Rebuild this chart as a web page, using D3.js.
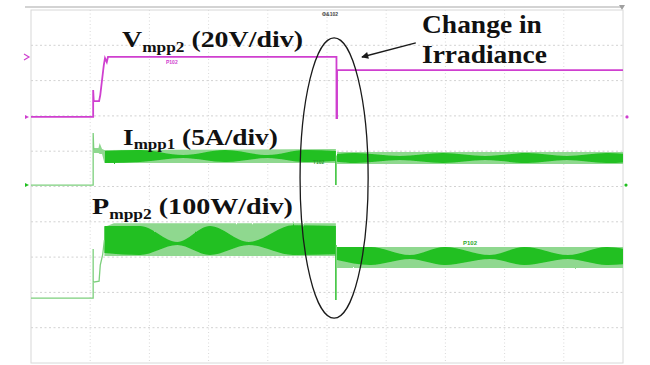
<!DOCTYPE html>
<html>
<head>
<meta charset="utf-8">
<script src="https://cdn.jsdelivr.net/npm/d3@7"></script>
<style>
  html, body { margin: 0; padding: 0; background: #fff; }
  svg { display: block; }
</style>
</head>
<body>
<svg id="scope" width="650" height="365"></svg>
<script>
// ---- Screen: 10 horizontal x 10 vertical divisions ----
const gridDivs = d3.range(0, 11);

// ---- Channel settings (ground level in divisions from bottom, units per division) ----
const vOffsetDiv = 6.97, vPerDiv = 20;    // Vmpp2, 20 V/div
const iOffsetDiv = 5.04, iPerDiv = 5;     // Impp1, 5 A/div
const pOffsetDiv = 1.84, pPerDiv = 100;   // Pmpp2, 100 W/div

// ---- Vmpp2 trace (time in divisions, volts) ----
const vTime  = [0, 1.05, 1.05, 1.06, 1.15, 1.17, 1.22, 1.23, 1.25, 1.28, 1.30, 5.15, 5.16, 5.16, 5.17, 5.17, 10];
const vVolts = [0, 0, 15.3, 9.0, 9.0, 12.4, 26.6, 29.4, 33.4, 31.1, 34.0, 34.0, 34.0, -0.6, -0.6, 26.5, 26.5];

// ---- Impp1 trace (amps) ----
const iTime = [0, 1.05, 1.05, 1.06];
const iAmps = [0, 0, 7.37, 5.0];
const iStepTime = [5.15, 5.15];
const iStepAmps = [4.2, 0];
// switching-ripple envelope (outer, light) and beat envelope (inner, dark)
const iBandTime = [1.06, 1.14, 1.16, 1.20, 1.24, 5.15, null, 5.17, 10];
const iBandHigh = [5.24, 5.24, 5.95, 5.10, 4.96, 5.10, null, 4.68, 4.68];
const iBandLow  = [4.54, 4.54, 4.39, 4.39, 3.12, 3.12, null, 2.98, 2.98];
const iRippleTime = [1.25, 1.84, 2.57, 3.28, 4.00, 4.63, 5.15, null, 5.17, 5.47, 6.23, 6.96, 7.67, 8.38, 9.05, 9.73, 10];
const iRippleHigh = [4.82, 4.96, 4.25, 4.96, 4.25, 4.96, 4.82, null, 4.40, 4.54, 4.11, 4.54, 4.11, 4.54, 4.11, 4.54, 4.45];
const iRippleLow  = [3.12, 3.26, 3.83, 3.26, 3.83, 3.26, 3.40, null, 3.30, 3.12, 3.55, 3.12, 3.55, 3.12, 3.55, 3.12, 3.20];

// ---- Pmpp2 trace (watts) ----
const pTime  = [0, 1.05, 1.05, 1.05, 1.15, 1.17, 1.21, 1.24];
const pWatts = [0, 0, 139, 45, 48, 93, 122, 164];
const pStepTime  = [5.15, 5.15];
const pStepWatts = [150, -5.6];
const pBandTime = [1.24, 1.40, 5.15, null, 5.17, 10];
const pBandHigh = [201, 212, 212, null, 144.5, 144.5];
const pBandLow  = [119, 119, 119, null, 85, 85];
const pRippleTime = [1.24, 1.84, 2.47, 3.02, 3.68, 4.43, 5.15, null, 5.17, 5.73, 6.40, 6.99, 7.75, 8.34, 9.07, 9.73, 10];
const pRippleHigh = [204, 204, 158.7, 204, 158.7, 206, 204, null, 144.5, 144.5, 121.8, 144.5, 121.8, 144.5, 121.8, 144.5, 140];
const pRippleLow  = [127.5, 121.8, 150, 121.8, 150, 121.8, 124, null, 107.7, 93.5, 110.5, 93.5, 110.5, 93.5, 110.5, 93.5, 96];

// ---- Colours ----
const MAGENTA = "#cf3fcf";
const GREEN_DARK = "#20c020";
const GREEN_LIGHT = "#8fd88f";
const GREEN_LINE = "#7ccf7c";

const svg = d3.select("#scope");
const defs = svg.append("defs");

// fine vertical jitter along the band edges (switching noise)
const jitter = defs.append("filter").attr("id", "jitter")
  .attr("x", "-2%").attr("y", "-30%").attr("width", "104%").attr("height", "160%");
jitter.append("feTurbulence").attr("type", "fractalNoise")
  .attr("baseFrequency", "0.9 0.02").attr("numOctaves", 1).attr("seed", 3).attr("result", "n");
jitter.append("feDisplacementMap").attr("in", "SourceGraphic").attr("in2", "n")
  .attr("scale", 1.8).attr("xChannelSelector", "R").attr("yChannelSelector", "G");

const x = d3.scaleLinear().domain([0, 10]).range([31, 623]);
const yDiv = d3.scaleLinear().domain([0, 10]).range([363, 10]);
const yV = v => yDiv(vOffsetDiv + v / vPerDiv);
const yI = a => yDiv(iOffsetDiv + a / iPerDiv);
const yP = w => yDiv(pOffsetDiv + w / pPerDiv);

// ---- Frame and graticule ----
svg.append("line")
  .attr("x1", 25).attr("x2", 623).attr("y1", 7).attr("y2", 7)
  .attr("stroke", "#c4c4c4").attr("stroke-width", 1.3);
svg.append("path")
  .attr("d", "M619,5 L625,5 L622,10 Z")
  .attr("fill", "#a0a0a0");

const grid = svg.append("g");
grid.selectAll("line.v")
  .data(gridDivs.slice(1, 10))
  .join("line")
  .attr("x1", d => x(d)).attr("x2", d => x(d))
  .attr("y1", yDiv(10)).attr("y2", yDiv(0))
  .attr("stroke", "#d9d9d9").attr("stroke-width", 1)
  .attr("stroke-dasharray", "1,2.5");
grid.selectAll("line.h")
  .data(gridDivs.slice(1, 10))
  .join("line")
  .attr("x1", x(0)).attr("x2", x(10))
  .attr("y1", d => yDiv(d)).attr("y2", d => yDiv(d))
  .attr("stroke", "#d2d2d2").attr("stroke-width", 1)
  .attr("stroke-dasharray", "2,2.5");
grid.append("rect")
  .attr("x", x(0)).attr("y", yDiv(10))
  .attr("width", x(10) - x(0)).attr("height", yDiv(0) - yDiv(10))
  .attr("fill", "none").attr("stroke", "#d8d8d8").attr("stroke-width", 1);

// ---- Channel markers ----
svg.append("path").attr("d", `M24,${yV(34) - 3} L29,${yV(34)} L24,${yV(34) + 3}`)
  .attr("fill", "none").attr("stroke", MAGENTA).attr("stroke-width", 1.2);
svg.append("path").attr("d", `M25,${yV(0) - 2} L29,${yV(0)} L25,${yV(0) + 2} Z`)
  .attr("fill", MAGENTA);
svg.append("path").attr("d", `M25,${yI(0) - 2} L29,${yI(0)} L25,${yI(0) + 2} Z`)
  .attr("fill", GREEN_DARK);
svg.append("circle").attr("cx", 627).attr("cy", yV(0)).attr("r", 1.6).attr("fill", MAGENTA);
svg.append("circle").attr("cx", 626).attr("cy", yI(0)).attr("r", 1.6).attr("fill", GREEN_DARK);

// ---- Helpers ----
const zipBand = (t, hi, lo) => t.map((d, k) => ({ t: d, hi: hi[k], lo: lo[k] }));
const zipLine = (t, v) => t.map((d, k) => ({ t: d, v: v[k] }));

function band(rows, yFn, fill, curve) {
  const area = d3.area()
    .defined(d => d.t !== null)
    .x(d => x(d.t))
    .y0(d => yFn(d.lo))
    .y1(d => yFn(d.hi))
    .curve(curve);
  svg.append("path").datum(rows).attr("d", area).attr("fill", fill)
    .attr("filter", "url(#jitter)");
}
function trace(rows, yFn, color, width) {
  const line = d3.line().x(d => x(d.t)).y(d => yFn(d.v));
  svg.append("path").datum(rows).attr("d", line)
    .attr("fill", "none").attr("stroke", color).attr("stroke-width", width)
    .attr("stroke-linejoin", "miter");
}

// ---- Pmpp2 ----
band(zipBand(pBandTime, pBandHigh, pBandLow), yP, GREEN_LIGHT, d3.curveLinear);
band(zipBand(pRippleTime, pRippleHigh, pRippleLow), yP, GREEN_DARK, d3.curveMonotoneX);
trace(zipLine(pTime, pWatts), yP, GREEN_LINE, 1.3);
trace(zipLine(pStepTime, pStepWatts), yP, "#3cc43c", 1.6);

// ---- Impp1 ----
band(zipBand(iBandTime, iBandHigh, iBandLow), yI, GREEN_LIGHT, d3.curveLinear);
band(zipBand(iRippleTime, iRippleHigh, iRippleLow), yI, GREEN_DARK, d3.curveMonotoneX);
trace(zipLine(iTime, iAmps), yI, GREEN_LINE, 1.3);
trace(zipLine(iStepTime, iStepAmps), yI, "#3cc43c", 1.6);

// ---- Vmpp2 ----
trace(zipLine(vTime, vVolts), yV, MAGENTA, 1.8);

// ---- Small scope readouts ----
svg.append("text").attr("x", 166).attr("y", 64).text("P102")
  .attr("font-family", "Liberation Sans").attr("font-size", 5).attr("font-weight", "bold").attr("fill", MAGENTA);
svg.append("text").attr("x", 313).attr("y", 164).text("T102")
  .attr("font-family", "Liberation Sans").attr("font-size", 5).attr("font-weight", "bold").attr("fill", "#2a9a2a");
svg.append("text").attr("x", 463).attr("y", 245).text("P102")
  .attr("font-family", "Liberation Sans").attr("font-size", 6).attr("font-weight", "bold").attr("fill", "#2aa82a");
svg.append("text").attr("x", 322).attr("y", 16).text("Φ&102")
  .attr("font-family", "Liberation Sans").attr("font-size", 5).attr("font-weight", "bold").attr("fill", "#444");

// ---- Annotation: ellipse around the irradiance step, arrow and labels ----
const ellCx = x(5.12), ellCy = yDiv(5.24);
svg.append("ellipse")
  .attr("cx", ellCx).attr("cy", ellCy)
  .attr("rx", x(5.12 + 0.575) - ellCx).attr("ry", yDiv(5.24 - 3.97) - ellCy)
  .attr("fill", "none").attr("stroke", "#1a1a1a").attr("stroke-width", 1.3);

defs.append("marker")
  .attr("id", "head").attr("viewBox", "0 0 10 10")
  .attr("refX", 9).attr("refY", 5)
  .attr("markerWidth", 9).attr("markerHeight", 7)
  .attr("markerUnits", "userSpaceOnUse")
  .attr("orient", "auto")
  .append("path").attr("d", "M0,0 L10,5 L0,10 Z").attr("fill", "#1a1a1a");
svg.append("line")
  .attr("x1", x(6.50)).attr("y1", yDiv(9.07))
  .attr("x2", x(5.59)).attr("y2", yDiv(8.67))
  .attr("stroke", "#1a1a1a").attr("stroke-width", 1.4)
  .attr("marker-end", "url(#head)");

// Bold serif labels, stretched horizontally to span their set width
function label(parts, left, baseline, right, size) {
  const g = svg.append("g");
  const t = g.append("text")
    .attr("x", 0).attr("y", 0)
    .attr("font-family", "Liberation Serif, Times New Roman, serif")
    .attr("font-weight", "bold").attr("fill", "#111");
  parts.forEach(p => {
    t.append("tspan")
      .attr("font-size", p.sub ? size * 0.62 : size)
      .attr("dy", p.dy || 0)
      .text(p.s);
  });
  const w = t.node().getBBox().width;
  g.attr("transform", `translate(${left},${baseline}) scale(${(right - left) / w},1)`);
}
label([{ s: "V" }, { s: "mpp2", sub: true, dy: 5 }, { s: " (20V/div)", dy: -5 }], 122, 47, 303, 22.5);
label([{ s: "I" }, { s: "mpp1", sub: true, dy: 4 }, { s: " (5A/div)", dy: -4 }], 123, 145, 278, 22.5);
label([{ s: "P" }, { s: "mpp2", sub: true, dy: 5 }, { s: " (100W/div)", dy: -5 }], 92, 214, 293, 22.5);
label([{ s: "Change in" }], 422, 33, 542, 25);
label([{ s: "Irradiance" }], 422, 63, 547, 25);
</script>
</body>
</html>
